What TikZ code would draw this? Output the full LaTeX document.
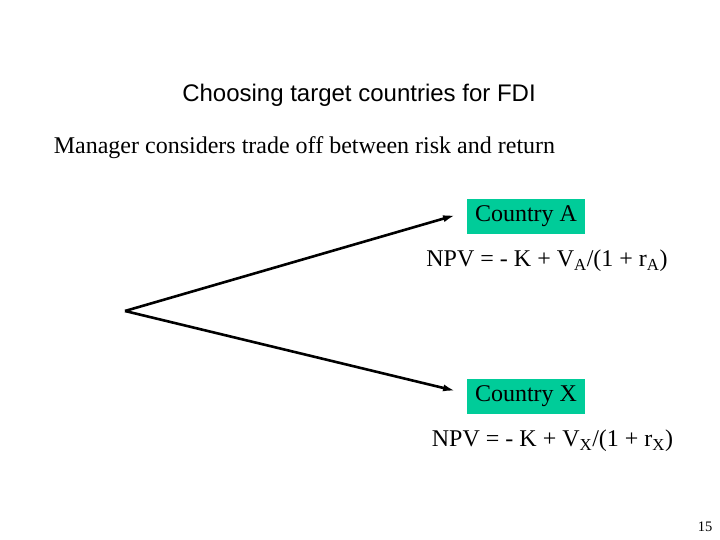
\documentclass[tikz,border=0pt]{standalone}
\usepackage{fontspec}
\usetikzlibrary{arrows.meta}
\setmainfont{Liberation Serif}
\newfontfamily\arialf{Liberation Sans}
\definecolor{boxgreen}{RGB}{0,204,153}
\begin{document}
\begin{tikzpicture}[x=1pt,y=1pt,
  country/.style={fill=boxgreen,inner sep=0pt,minimum width=118pt,minimum height=35pt,font=\fontsize{24}{28}\selectfont},
  npv/.style={inner sep=0pt,font=\fontsize{24}{28}\selectfont},
  arr/.style={-{Latex[length=13pt,width=7pt]},line width=2.6pt}]
\useasboundingbox (0,0) rectangle (720,540);
\node[font=\arialf\fontsize{24}{28}\selectfont] (title) at (359,445) {Choosing target countries for FDI};
\node[font=\fontsize{24}{28}\selectfont] (mgr) at (304.5,392) {Manager considers trade off between risk and return};
\node[country] (ca) at (526,323.5) {Country A};
\node[npv] (npva) at (547,279) {NPV = - K + V\textsubscript{A}/(1 + r\textsubscript{A})};
\node[country] (cx) at (526,143.5) {Country X};
\node[npv] (npvx) at (552.5,99) {NPV = - K + V\textsubscript{X}/(1 + r\textsubscript{X})};
\coordinate (o) at (125,229);
\coordinate (ea) at (456,325);
\coordinate (ex) at (456,149);
\draw[arr] (o) -- (ea);
\draw[arr] (o) -- (ex);
\node[font=\fontsize{14.5}{17}\selectfont] (pg) at (705,13) {15};
\end{tikzpicture}
\end{document}
